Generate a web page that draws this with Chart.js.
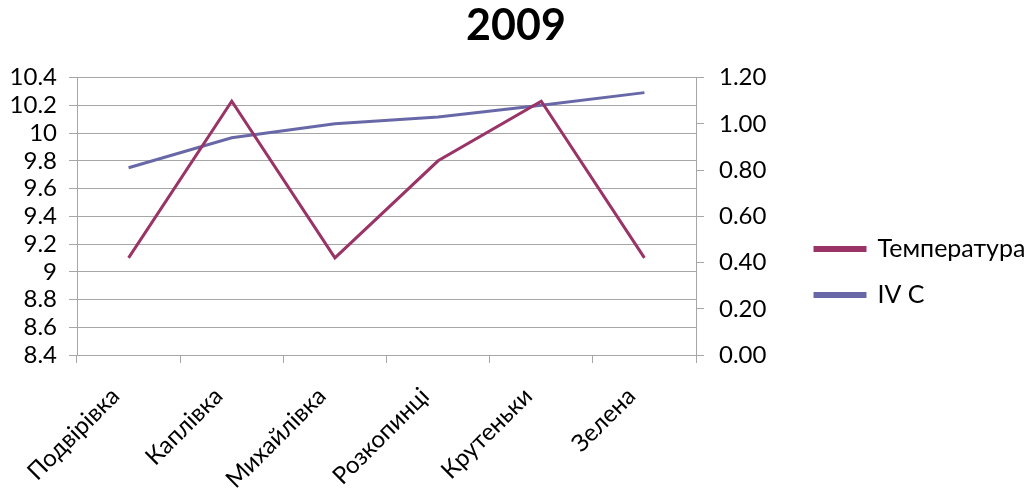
<!DOCTYPE html>
<html lang="uk">
<head>
    <meta charset="UTF-8">
    <title>2009</title>
    <script src="https://cdn.jsdelivr.net/npm/chart.js@4/dist/chart.umd.min.js"></script>
    <style>
        html, body { margin: 0; padding: 0; background: #fff; }
        #wrap { width: 1032px; height: 488px; }
    </style>
</head>
<body>
    <div id="wrap"><canvas id="chart"></canvas></div>
    <script>
        // дані з графіка
        const categories = ['Подвірівка', 'Каплівка', 'Михайлівка', 'Розкопинці', 'Крутеньки', 'Зелена'];
        const temperature = [9.1, 10.23, 9.1, 9.8, 10.23, 9.1];
        const ivc = [0.81, 0.94, 1.0, 1.03, 1.08, 1.135];
        const seriesNames = ['Температура', 'IV C'];
        const leftTicks = [8.4, 10.4, 0.2];   // min, max, крок
        const rightTicks = [0, 1.2, 0.2];

        const gridColor = '#a6a6a6';
        const font = { family: 'Lato', size: 24 };

        // фіксуємо ширину легенди
        const legendFit = {
            id: 'legendFit',
            beforeLayout(chart) {
                const lg = chart.legend;
                if (lg && !lg._fixed) {
                    const fit = lg.fit;
                    lg.fit = function () { fit.call(this); this.width = 238; };
                    lg._fixed = true;
                }
            }
        };

        new Chart(document.getElementById('chart'), {
            type: 'line',
            data: {
                labels: categories,
                datasets: [
                    {
                        label: seriesNames[0],
                        data: temperature,
                        borderColor: '#9a3366',
                        backgroundColor: '#9a3366',
                        borderWidth: 3,
                        pointRadius: 0,
                        tension: 0,
                        yAxisID: 'y'
                    },
                    {
                        label: seriesNames[1],
                        data: ivc,
                        borderColor: '#6868a8',
                        backgroundColor: '#6868a8',
                        borderWidth: 3,
                        pointRadius: 0,
                        tension: 0,
                        yAxisID: 'y1'
                    }
                ]
            },
            options: {
                responsive: true,
                maintainAspectRatio: false,
                animation: false,
                layout: { padding: 0 },
                plugins: {
                    title: {
                        display: true,
                        text: '2009',
                        color: '#000',
                        font: { family: 'Lato', size: 43, weight: 'bold' },
                        padding: { top: 0, bottom: 26 }
                    },
                    legend: {
                        position: 'right',
                        align: 'start',
                        title: { display: true, text: '', font: { size: 12 }, padding: { top: 0, bottom: 201 } },
                        labels: {
                            color: '#000',
                            font: { family: 'Lato', size: 25 },
                            boxWidth: 50,
                            boxHeight: 3,
                            padding: 21
                        }
                    },
                    tooltip: { enabled: false }
                },
                scales: {
                    x: {
                        offset: true,
                        grid: {
                            offset: true,
                            drawOnChartArea: false,
                            drawTicks: true,
                            tickLength: 8,
                            color: gridColor
                        },
                        border: { color: gridColor },
                        ticks: {
                            color: '#000',
                            font: font,
                            minRotation: 45,
                            maxRotation: 45,
                            padding: 19,
                            labelOffset: -13
                        },
                        afterFit(s) { s.height = 133; }
                    },
                    y: {
                        position: 'left',
                        min: leftTicks[0],
                        max: leftTicks[1],
                        grid: { color: gridColor, tickLength: 8 },
                        border: { color: gridColor },
                        ticks: {
                            stepSize: leftTicks[2],
                            autoSkip: false,
                            color: '#000',
                            font: font,
                            padding: 12,
                            callback: v => String(parseFloat(v.toFixed(1)))
                        },
                        afterFit(s) { s.width = 77; }
                    },
                    y1: {
                        position: 'right',
                        min: rightTicks[0],
                        max: rightTicks[1],
                        grid: { drawOnChartArea: false, color: gridColor, tickLength: 8 },
                        border: { color: gridColor },
                        ticks: {
                            stepSize: rightTicks[2],
                            autoSkip: false,
                            color: '#000',
                            font: font,
                            padding: 15,
                            callback: v => v.toFixed(2)
                        },
                        afterFit(s) { s.width = 98; }
                    }
                }
            },
            plugins: [legendFit]
        });
    </script>
</body>
</html>
